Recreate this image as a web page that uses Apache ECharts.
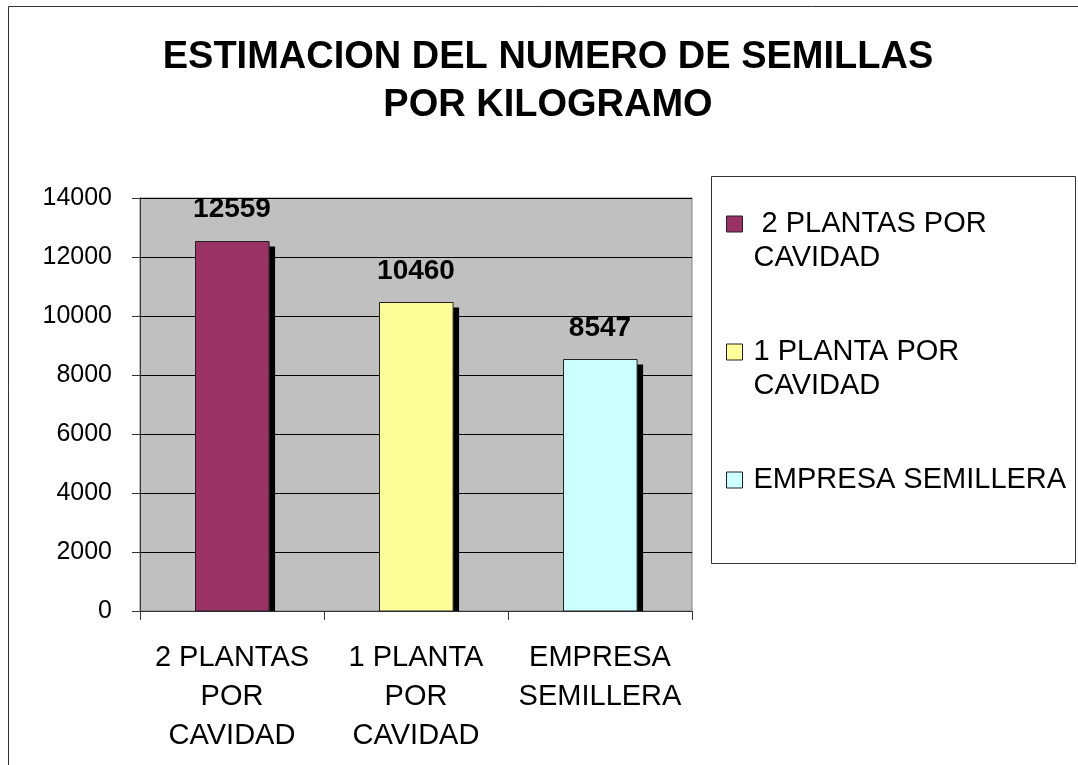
<!DOCTYPE html>
<html>
<head>
<meta charset="utf-8">
<script src="https://cdn.jsdelivr.net/npm/echarts@6/dist/echarts.min.js"></script>
<style>
html, body { margin: 0; padding: 0; background: #fff; }
#chart { width: 1078px; height: 765px; }
</style>
</head>
<body>
<div id="chart"></div>
<script>
// datos
const categories = ['2 PLANTAS\nPOR\nCAVIDAD', '1 PLANTA\nPOR\nCAVIDAD', 'EMPRESA\nSEMILLERA']
const seriesNames = [' 2 PLANTAS POR CAVIDAD', '1 PLANTA POR CAVIDAD', 'EMPRESA SEMILLERA']
// la linea vacia deja el icono a la altura de la primera linea
const legendLabels = ['\n 2 PLANTAS POR\nCAVIDAD', '\n1 PLANTA POR\nCAVIDAD', '\nEMPRESA SEMILLERA\n']
const seedValues = [12559, 10460, 8547]
const yTicks = [0, 2000, 4000, 6000, 8000, 10000, 12000, 14000]
const barColors = ['#993366', '#FFFF99', '#CCFFFF']

const font = '"Liberation Sans", Arial, sans-serif'

// barra con sombra negra a la derecha, estilo Excel
function renderBar(params, api) {
    let x = api.value(0)
    let v = api.value(1)
    let top = api.coord([x, v])
    let base = api.coord([x, 0])
    let w = api.size([1, 0])[0] * 0.4
    let left = Math.round(top[0] - w / 2) + 0.5
    let t = Math.round(top[1]) + 0.5
    let b = Math.round(base[1])
    return {
        type: 'group',
        children: [
            {
                type: 'rect',
                shape: {x: left + w, y: t + 5, width: 6, height: b - t - 5},
                style: {fill: '#000'}
            },
            {
                type: 'rect',
                shape: {x: left, y: t, width: w, height: b - t},
                style: {fill: api.visual('color'), stroke: '#222', lineWidth: 1}
            },
            {
                type: 'text',
                x: top[0],
                y: top[1] - 31,
                style: {
                    text: String(v),
                    fill: '#000',
                    font: 'bold 28px ' + font,
                    align: 'center',
                    verticalAlign: 'middle'
                }
            }
        ]
    }
}

let series = seriesNames.map((name, i) => ({
    name: name,
    type: 'custom',
    renderItem: renderBar,
    itemStyle: {color: barColors[i]},
    encode: {x: 0, y: 1},
    data: [[i, seedValues[i]]]
}))

let options = {
    backgroundColor: '#fff',
    animation: false,
    title: {
        text: 'ESTIMACION DEL NUMERO DE SEMILLAS\nPOR KILOGRAMO',
        left: 548,
        top: 34,
        padding: 0,
        textAlign: 'center',
        textStyle: {
            color: '#000',
            fontFamily: font,
            fontWeight: 'bold',
            fontSize: 38,
            lineHeight: 48
        }
    },
    legend: {
        orient: 'vertical',
        left: 726,
        top: 173,
        padding: 0,
        itemGap: 26,
        itemWidth: 16,
        itemHeight: 16,
        icon: 'rect',
        itemStyle: {borderColor: '#222', borderWidth: 1},
        formatter: (name) => legendLabels[seriesNames.indexOf(name)],
        textStyle: {color: '#000', fontFamily: font, fontSize: 29, lineHeight: 34, padding: [0, 0, 0, 6]},
        data: seriesNames
    },
    grid: {
        left: 140,
        top: 198,
        width: 552,
        height: 413,
        show: true,
        backgroundColor: '#C0C0C0',
        borderColor: '#808080',
        borderWidth: 1
    },
    xAxis: {
        type: 'category',
        data: categories,
        axisLine: {lineStyle: {color: '#333', width: 1}},
        axisTick: {show: true, length: 9, lineStyle: {color: '#333'}},
        axisLabel: {
            color: '#000',
            fontFamily: font,
            fontSize: 29,
            lineHeight: 39,
            margin: 27,
            interval: 0
        }
    },
    yAxis: {
        type: 'value',
        min: yTicks[0],
        max: yTicks[yTicks.length - 1],
        interval: yTicks[1] - yTicks[0],
        axisLine: {show: true, lineStyle: {color: '#333', width: 1}},
        axisTick: {show: true, length: 8, lineStyle: {color: '#333'}},
        axisLabel: {
            color: '#000',
            fontFamily: font,
            fontSize: 25,
            margin: 28,
            formatter: (v) => String(v)
        },
        splitLine: {show: true, lineStyle: {color: '#000', width: 1}}
    },
    graphic: [
        {
            type: 'rect',
            silent: true,
            shape: {x: 8.5, y: 6.5, width: 1200, height: 1000},
            style: {fill: null, stroke: '#333', lineWidth: 1}
        },
        {
            type: 'rect',
            silent: true,
            shape: {x: 711.5, y: 176.5, width: 364, height: 387},
            style: {fill: null, stroke: '#333', lineWidth: 1}
        }
    ],
    series: series
}

let chart = echarts.init(document.getElementById('chart'), null, {renderer: 'canvas'})
chart.setOption(options)
</script>
</body>
</html>
